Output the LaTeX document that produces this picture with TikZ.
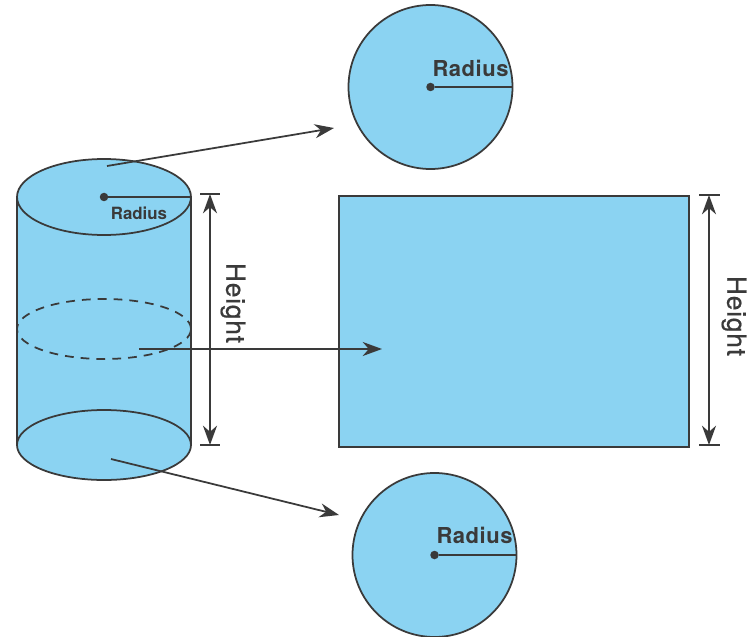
\documentclass[tikz,border=0pt]{standalone}
\usepackage{fontspec}
\setmainfont{TeX Gyre Heros}
\newfontfamily\labelfont[LetterSpace=2.5]{TeX Gyre Heros}
\newfontfamily\heightfont[LetterSpace=3,FakeBold=0.6]{TeX Gyre Heros}
\usetikzlibrary{arrows.meta,shapes.geometric}
\definecolor{netblue}{HTML}{8BD3F2}
\definecolor{netline}{HTML}{3A3A3A}
\tikzset{
  facefill/.style={draw=netline,fill=netblue,line width=1pt,inner sep=0pt,outer sep=0pt},
  cap/.style={facefill,ellipse,minimum width=3.48cm,minimum height=#1},
  disc/.style={facefill,circle,minimum size=3.28cm},
  dot/.style={circle,fill=netline,inner sep=0pt,outer sep=0pt,minimum size=0.17cm},
  netarrow/.style={draw=netline,line width=1pt,-{Stealth[length=11pt,width=8pt,inset=3.5pt]}},
  dimarrow/.style={draw=netline,line width=1pt,{Stealth[length=11pt,width=8pt,inset=3.5pt]}-{Stealth[length=11pt,width=8pt,inset=3.5pt]}},
  tick/.style={draw=netline,line width=1pt},
  biglabel/.style={text=netline,font=\labelfont\fontsize{12.5}{14}\selectfont\bfseries},
  smalllabel/.style={text=netline,font=\fontsize{9.6}{11}\selectfont\bfseries},
  heightlabel/.style={text=netline,rotate=-90,font=\heightfont\fontsize{15}{17}\selectfont},
}
\begin{document}
\begin{tikzpicture}
\useasboundingbox (0,0) rectangle (14.98,12.72);
% cylinder
\coordinate (topleft) at (0.34,8.78);
\coordinate (topright) at (3.82,8.78);
\coordinate (botleft) at (0.34,3.82);
\coordinate (botright) at (3.82,3.82);
\draw[facefill] (topleft) -- (botleft) -- (botright) -- (topright) -- cycle;
\node[cap=1.52cm] (topcap) at (2.08,8.78) {};
\node[cap=1.40cm] (botcap) at (2.08,3.82) {};
\draw[netline,line width=1pt,dashed,dash pattern=on 5pt off 4pt] (2.08,6.14) ellipse (1.74 and 0.60);
\node[dot] (capdot) at (2.08,8.78) {};
\draw[netline,line width=1pt] (capdot) -- (topcap.east);
\node[smalllabel] (capradius) at (2.78,8.46) {Radius};
% flat pieces
\node[disc] (topdisc) at (8.61,10.98) {};
\node[disc] (botdisc) at (8.69,1.62) {};
\node[facefill,rectangle,minimum width=7cm,minimum height=5.02cm] (wall) at (10.28,6.29) {};
\node[dot] (topdot) at (topdisc.center) {};
\node[dot] (botdot) at (botdisc.center) {};
\draw[netline,line width=1pt] (topdot) -- (topdisc.east);
\draw[netline,line width=1pt] (botdot) -- (botdisc.east);
\node[biglabel] (topradius) at (9.41,11.35) {Radius};
\node[biglabel] (botradius) at (9.49,2.02) {Radius};
% arrows from cylinder to pieces
\coordinate (fromtop) at (2.14,9.40);
\coordinate (totop) at (6.68,10.16);
\coordinate (frommid) at (2.78,5.74);
\coordinate (tomid) at (7.64,5.74);
\coordinate (frombot) at (2.22,3.54);
\coordinate (tobot) at (6.78,2.42);
\draw[netarrow] (fromtop) -- (totop);
\draw[netarrow] (frommid) -- (tomid);
\draw[netarrow] (frombot) -- (tobot);
% heights
\coordinate (cyltop) at (4.20,8.84);
\coordinate (cylbot) at (4.20,3.82);
\coordinate (walltop) at (14.18,8.82);
\coordinate (wallbot) at (14.18,3.82);
\draw[dimarrow] (cyltop) -- (cylbot);
\draw[dimarrow] (walltop) -- (wallbot);
\draw[tick] (4.00,8.84) -- (4.40,8.84);
\draw[tick] (4.00,3.82) -- (4.40,3.82);
\draw[tick] (13.98,8.82) -- (14.40,8.82);
\draw[tick] (13.98,3.82) -- (14.40,3.82);
\node[heightlabel] (cylheight) at (4.66,6.66) {Height};
\node[heightlabel] (wallheight) at (14.68,6.40) {Height};
\end{tikzpicture}
\end{document}
